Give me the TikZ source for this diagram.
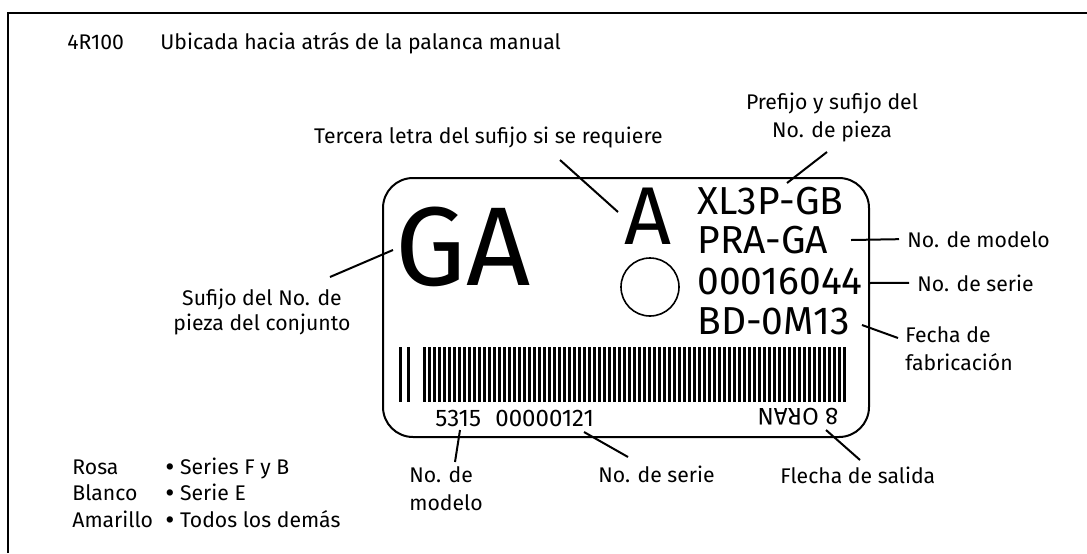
\documentclass[tikz,border=0pt]{standalone}
\usepackage{fontspec}
\setmainfont{Fira Sans}
\usetikzlibrary{positioning}

\tikzset{
  leader/.style={line width=1pt},
  lbl/.style={font=\fontsize{10.6}{14}\selectfont, inner sep=0pt},
  code/.style={font=\fontsize{19.5}{20}\selectfont, inner sep=0pt, anchor=west},
  small code/.style={font=\fontsize{12}{14}\selectfont, inner sep=0pt},
}
\newcommand{\dotmark}{\raisebox{-1.1pt}{\fontsize{14}{14}\selectfont\textbullet}\ }

\begin{document}
\begin{tikzpicture}[x=0.5pt, y=-0.5pt]
  \useasboundingbox (0,0) rectangle (1087,553);
  % frame (only top and left are visible)
  \draw [line width=1.2pt] (8,553) -- (8,13) -- (1087,13);

  \node [lbl, anchor=base west] (engine) at (67,49) {4R100};
  \node [lbl, anchor=base west] (where)  at (160,49) {Ubicada hacia atrás de la palanca manual};

  % the tag
  \draw [line width=1pt, rounded corners=15pt] (383,178) rectangle (869,437);
  \node [inner sep=0pt, font=\fontsize{56}{56}\selectfont] (suffix) at (463,247) {GA};
  \node [inner sep=0pt, font=\fontsize{41}{41}\selectfont] (third)  at (648,216) {A};
  \draw [line width=0.8pt] (650,287) circle (29);
  \node [code] (prefix) at (697,201) {XL3P-GB};
  \node [code] (model)  at (697,240) {PRA-GA};
  \node [code] (serial) at (697,281) {00016044};
  \node [code] (date)   at (697,321) {BD-0M13};

  % barcode
  \fill (399,347) rectangle (401.5,402);
  \fill (407,347) rectangle (409.5,402);
  \foreach \i in {0,...,84}
    \fill ({423+5*\i},347) rectangle ({425.5+5*\i},402);

  \node [small code, anchor=west] (bcnum) at (435,418) {5315\hspace{0.6em}00000121};
  \node [small code, rotate=180] (arrow) at (798,417) {8 ORAN};

  % labels (multi-line ones sit on the baseline of their last line)
  \node [lbl, anchor=base east] (lthird) at (663,143) {Tercera letra del sufijo si se requiere};
  \node [lbl, anchor=base, align=center] (lprefix) at (832,137) {Prefijo y sufijo del\\No. de pieza};
  \node [lbl, anchor=base, align=center, font=\fontsize{10.6}{12.5}\selectfont] (lsuffix) at (262,330) {Sufijo del No. de\\pieza del conjunto};
  \node [lbl, anchor=base west] (lmodel)  at (907,247) {No. de modelo};
  \node [lbl, anchor=base west] (lserial) at (917,291) {No. de serie};
  \node [lbl, anchor=base west, align=left] (ldate) at (905,370) {Fecha de\\fabricación};
  \node [lbl, anchor=base west, align=left] (lbcmodel) at (409,510) {No. de\\modelo};
  \node [lbl, anchor=base west] (lbcserial) at (598,482) {No. de serie};
  \node [lbl, anchor=base west] (larrow) at (780,483) {Flecha de salida};

  % legend
  \node [lbl, anchor=base west] (rosa)     at (72,474) {Rosa};
  \node [lbl, anchor=base west] (blanco)   at (72,500) {Blanco};
  \node [lbl, anchor=base west] (amarillo) at (72,527) {Amarillo};
  \node [lbl, anchor=base west] (srosa)     at (165,474) {\dotmark Series F y B};
  \node [lbl, anchor=base west] (sblanco)   at (165,500) {\dotmark Serie E};
  \node [lbl, anchor=base west] (samarillo) at (165,527) {\dotmark Todos los demás};

  % leader end points
  \coordinate (pthird)   at (618,212);
  \coordinate (pprefix)  at (787,183);
  \coordinate (psuffix)  at (393,250);
  \coordinate (pmodel)   at (851,240);
  \coordinate (pserial)  at (868,283);
  \coordinate (pdate)    at (862,325);
  \coordinate (pbcmodel) at (460,430);
  \coordinate (pbcser)   at (584,432);
  \coordinate (parrow)   at (826,430);

  \draw [leader] (560,160) -- (pthird);
  \draw [leader] (827,152) -- (pprefix);
  \draw [leader] (330,277) -- (psuffix);
  \draw [leader] (lmodel.west) ++(-8,0) -- (pmodel);
  \draw [leader] (lserial.west) ++(-8,0) -- (pserial);
  \draw [leader] (898,338) -- (pdate);
  \draw [leader] (455,462) -- (pbcmodel);
  \draw [leader] (628,457) -- (pbcser);
  \draw [leader] (860,460) -- (parrow);
\end{tikzpicture}
\end{document}
